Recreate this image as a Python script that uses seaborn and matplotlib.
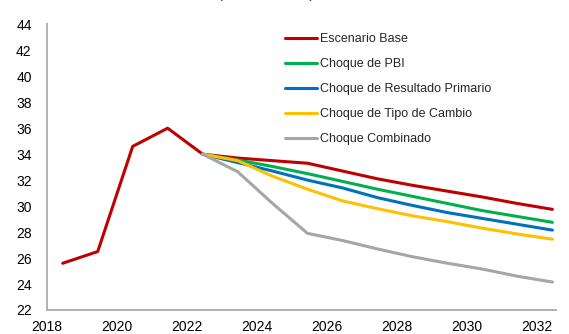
#!/usr/bin/env python3
# Line chart: deuda bajo escenarios de choque

import pandas as pd
import matplotlib.pyplot as plt
from matplotlib.ticker import MultipleLocator
import seaborn as sns

# ============================================================================
# DATA
# ============================================================================
years_base = [2018, 2019, 2020, 2021, 2022, 2023, 2024, 2025,
              2026, 2027, 2028, 2029, 2030, 2031, 2032]
escenario_base = [25.6, 26.5, 34.6, 36.0, 34.0, 33.7, 33.5, 33.3,
                  32.7, 32.1, 31.6, 31.15, 30.7, 30.2, 29.75]

years_shock = [2022, 2023, 2024, 2025, 2026, 2027, 2028, 2029, 2030, 2031, 2032]
choque_pbi = [34.0, 33.55, 33.05, 32.5, 31.9, 31.3, 30.75, 30.2, 29.65, 29.2, 28.75]
choque_primario = [34.0, 33.35, 32.7, 32.0, 31.4, 30.65, 30.05, 29.5, 29.05, 28.6, 28.15]
choque_cambio = [34.0, 33.5, 32.3, 31.3, 30.4, 29.8, 29.25, 28.8, 28.3, 27.85, 27.45]
choque_combinado = [34.0, 32.65, 30.2, 27.9, 27.35, 26.7, 26.1, 25.6, 25.15, 24.6, 24.15]

series = [
    ("Escenario Base", years_base, escenario_base, "#C00000"),
    ("Choque de PBI", years_shock, choque_pbi, "#00B050"),
    ("Choque de Resultado Primario", years_shock, choque_primario, "#0070C0"),
    ("Choque de Tipo de Cambio", years_shock, choque_cambio, "#FFC000"),
    ("Choque Combinado", years_shock, choque_combinado, "#A6A6A6"),
]

rows = []
for name, yrs, vals, _ in series:
    for yr, v in zip(yrs, vals):
        rows.append({"anio": yr + 0.45, "valor": v, "serie": name})  # mid-year points
df = pd.DataFrame(rows)
palette = {name: col for name, _, _, col in series}

# ============================================================================
# THEME SETTINGS
# ============================================================================
sns.set_theme(style="white")
plt.rcParams['font.family'] = ['Liberation Sans', 'DejaVu Sans']
plt.rcParams['font.size'] = 10

axis_gray = "#B0B0B0"

# ============================================================================
# CREATE PLOT
# ============================================================================
fig = plt.figure(figsize=(5.69, 3.34), dpi=100)
ax = fig.add_axes([0.0826, 0.0719, 0.8944, 0.8553])

sns.lineplot(data=df, x="anio", y="valor", hue="serie", palette=palette,
             hue_order=[s[0] for s in series], linewidth=2.2, ax=ax)

ax.set_xlim(2018, 2032.55)
ax.set_ylim(22, 44)
ax.xaxis.set_major_locator(MultipleLocator(2))
ax.xaxis.set_minor_locator(MultipleLocator(1))
ax.yaxis.set_major_locator(MultipleLocator(2))

ax.set_xlabel("")
ax.set_ylabel("")
for side in ["top", "right"]:
    ax.spines[side].set_visible(False)
for side in ["left", "bottom"]:
    ax.spines[side].set_color(axis_gray)
    ax.spines[side].set_linewidth(1.4)

ax.tick_params(axis="both", which="both", direction="out", length=4,
               width=1, color=axis_gray, labelsize=10, labelcolor="black")
ax.tick_params(axis="y", pad=7)
ax.tick_params(axis="x", pad=3)

leg = ax.legend(loc="upper left", bbox_to_anchor=(0.5, 0.90),
                bbox_transform=fig.transFigure, frameon=False, fontsize=9,
                handlelength=2.6, handletextpad=0.2, labelspacing=1.04,
                borderpad=0, borderaxespad=0)

# title, almost entirely cropped at the top edge in the reference
fig.text(0.467, 1.005, "(En % del PBI)", ha="center", va="baseline", fontsize=10.5)

# ============================================================================
# SAVE OUTPUT
# ============================================================================
plt.savefig("out.png", dpi=100)
print("Plot saved to: out.png")
plt.close()
